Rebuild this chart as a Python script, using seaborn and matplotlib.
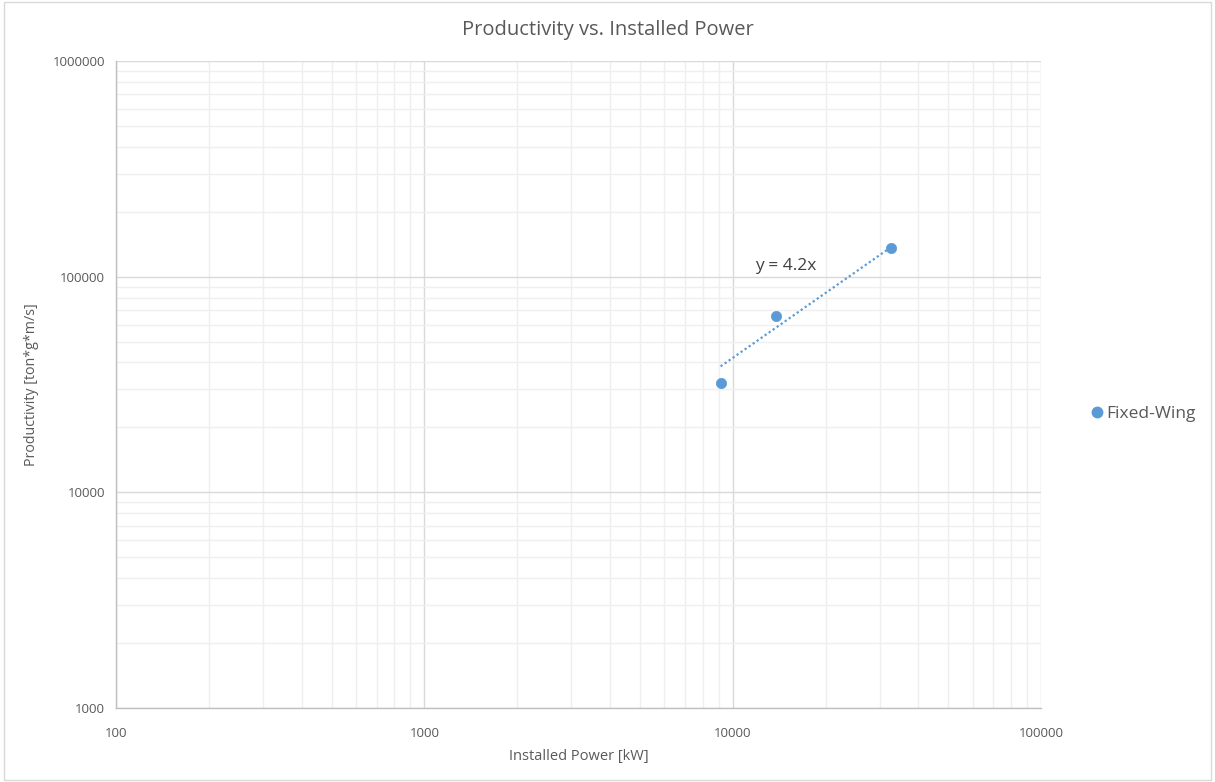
import numpy as np
import pandas as pd
import matplotlib
matplotlib.use("Agg")
import matplotlib.pyplot as plt
import seaborn as sns
from matplotlib.ticker import LogLocator, FixedLocator, NullFormatter
from matplotlib.lines import Line2D

# Fixed-wing data: installed power [kW] and productivity [ton*g*m/s]
power_kw = [9140, 13800, 32500]
productivity = [32200, 65700, 136000]
series_name = "Fixed-Wing"
trend_slope = 4.2

x_ticks = [100, 1000, 10000, 100000]
y_ticks = [1000, 10000, 100000, 1000000]

sns.set_theme(style="white")
plt.rcParams["font.family"] = ["Open Sans", "DejaVu Sans"]

df = pd.DataFrame({"power": power_kw, "prod": productivity, "series": series_name})

fig = plt.figure(figsize=(12.15, 7.82), dpi=100)
ax = fig.add_axes([0.0955, 0.0946, 0.7613, 0.8274])

blue = "#5b9bd5"
grid_major = "#d9d9d9"
grid_minor = "#efefef"
text_col = "#595959"

ax.set_xscale("log")
ax.set_yscale("log")
ax.set_xlim(x_ticks[0], x_ticks[-1])
ax.set_ylim(y_ticks[0], y_ticks[-1])

ax.xaxis.set_major_locator(FixedLocator(x_ticks))
ax.yaxis.set_major_locator(FixedLocator(y_ticks))
ax.xaxis.set_minor_locator(LogLocator(base=10, subs=np.arange(2, 10)))
ax.yaxis.set_minor_locator(LogLocator(base=10, subs=np.arange(2, 10)))
ax.xaxis.set_minor_formatter(NullFormatter())
ax.yaxis.set_minor_formatter(NullFormatter())
ax.set_xticklabels([str(v) for v in x_ticks])
ax.set_yticklabels([str(v) for v in y_ticks])

ax.grid(which="minor", color=grid_minor, linewidth=1.0)
ax.grid(which="major", color=grid_major, linewidth=1.0)
ax.set_axisbelow(True)

for side in ["top", "right"]:
    ax.spines[side].set_visible(False)
for side in ["left", "bottom"]:
    ax.spines[side].set_color("#bfbfbf")
    ax.spines[side].set_linewidth(1.0)
ax.tick_params(which="both", length=0, colors=text_col, labelsize=9.5, pad=8)
ax.tick_params(axis="x", pad=14)

# Linear trendline through the origin: y = 4.2x
trend_x = np.array([min(power_kw), max(power_kw)])
trend_df = pd.DataFrame({"power": trend_x, "prod": trend_slope * trend_x})
sns.lineplot(data=trend_df, x="power", y="prod", ax=ax, color=blue,
             linestyle=(0, (1, 1.2)), linewidth=1.6, legend=False)

sns.scatterplot(data=df, x="power", y="prod", ax=ax, color=blue, s=55,
                edgecolor=blue, linewidth=0.5, legend=False, zorder=3)

ax.text(14860, 112200, f"y = {trend_slope:g}x", fontsize=12.5, color="#404040",
        ha="center", va="center")

# Chart title centred on the whole figure
fig.text(0.5, 0.962, "Productivity vs. Installed Power", fontsize=14.5,
         color=text_col, ha="center", va="center")
ax.set_xlabel("Installed Power [kW]", fontsize=10.5, color=text_col, labelpad=6)
ax.set_ylabel("Productivity [ton*g*m/s]", fontsize=10.3, color=text_col, labelpad=10)

handle = Line2D([], [], marker="o", linestyle="none", markersize=7.5,
                color=blue, markeredgecolor=blue)
leg = ax.legend([handle], [series_name], loc="center left",
                bbox_to_anchor=(1.044, 0.454), frameon=False,
                fontsize=12.5, handletextpad=0.0, handlelength=1.0,
                borderaxespad=0)
for t in leg.get_texts():
    t.set_color(text_col)

# Light chart border
fig.patches.append(plt.Rectangle((0.003, 0.003), 0.994, 0.994, transform=fig.transFigure,
                                 fill=False, edgecolor="#d9d9d9", linewidth=1.0))

fig.savefig("out.png", dpi=100)
